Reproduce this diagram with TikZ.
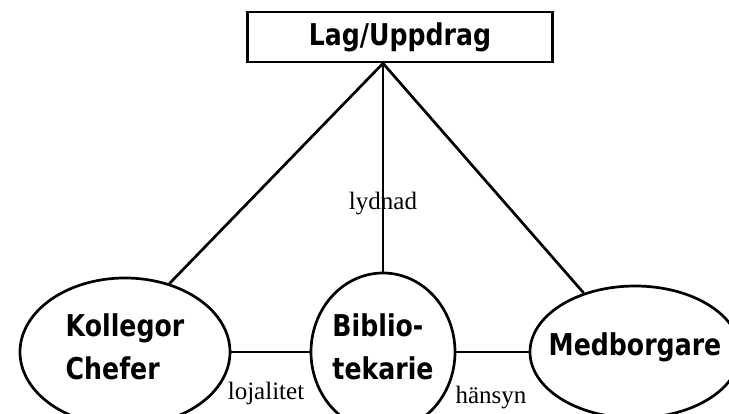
\documentclass[tikz,border=0pt]{standalone}
\usepackage{fontspec}
\setmainfont{Liberation Serif}
\newfontfamily\headsans{DejaVu Sans}[FakeStretch=0.84]
\usetikzlibrary{shapes.geometric}
\begin{document}
\begin{tikzpicture}[x=1pt,y=-1pt,
  link/.style={line width=2.7pt},
  headfont/.style={font=\headsans\bfseries\fontsize{30}{43}\selectfont},
  role/.style={ellipse, draw, line width=2.7pt, inner sep=0pt, headfont, align=left},
  tag/.style={font=\fontsize{25}{30}\selectfont, inner sep=0pt}]
\useasboundingbox (0,0) rectangle (729,414);
\clip (0,0) rectangle (729,414);
% top box
\node[draw, line width=2.7pt, minimum width=305pt, minimum height=50pt, inner sep=0pt, headfont] (law) at (400,37) {Lag/Uppdrag};
% the three parties (extra text depth lifts the words a little inside each ellipse;
% negative inner xsep keeps the long word from widening its ellipse)
\node[role, text depth=10pt, minimum width=210pt, minimum height=148pt] (peers) at (125,352) {Kollegor\\Chefer};
\node[role, text depth=10pt, minimum width=144pt, minimum height=158pt] (lib) at (383,352) {Biblio-\\tekarie};
\node[role, text depth=15pt, inner xsep=-20pt, minimum width=210pt, minimum height=132pt] (pub) at (635,352) {Medborgare};
% connectors
\coordinate (apex) at (law.south -| lib.north);
\draw[link] (apex) -- (peers.57);
\draw[link] (apex) -- (lib.north);
\draw[link] (apex) -- (pub.131.8);
\draw[link] (peers.east) -- (lib.west);
\draw[link] (lib.east) -- (pub.west);
% relation labels
\node[tag] (obey) at (383,204) {lydnad};
\node[tag] (loyal) at (266,393) {lojalitet};
\node[tag] (regard) at (491,398) {hänsyn};
\end{tikzpicture}
\end{document}
